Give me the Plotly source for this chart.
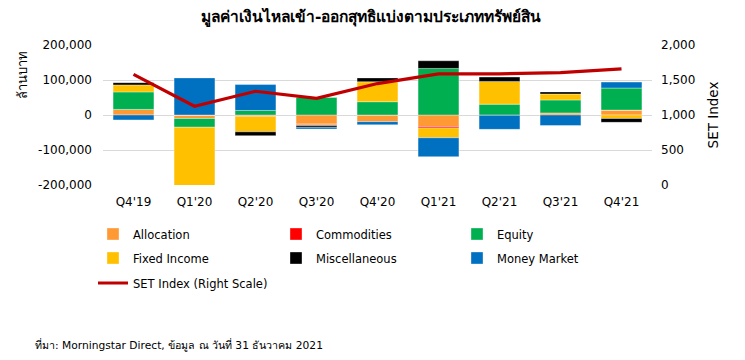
import plotly.graph_objects as go

quarters = ["Q4'19", "Q1'20", "Q2'20", "Q3'20", "Q4'20", "Q1'21", "Q2'21", "Q3'21", "Q4'21"]

allocation = [16000, -10000, -2000, -26000, -19000, -33000, 0, 6000, 14000]
commodities = [0, 0, -2000, -2000, 0, -4000, -1000, 0, 0]
equity = [50000, -25000, 13000, 50000, 38000, 133000, 31000, 37000, 63000]
fixed_income = [20000, -168000, -44000, -2000, 57000, -28000, 65000, 17000, -10000]
miscellaneous = [6500, 0, -11000, -5000, 11000, 22000, 12500, 6000, -11000]
money_market = [-14000, 106000, 74000, -5000, -9000, -54000, -40000, -30000, 17000]
set_index = [1579.84, 1125.86, 1339.03, 1237.04, 1449.35, 1587.21, 1587.79, 1605.68, 1657.62]

left_ticks = [-200000, -100000, 0, 100000, 200000]
right_ticks = [0, 500, 1000, 1500, 2000]

FONT = "DejaVu Sans"

# The page body has an 8px margin, so the figure is drawn offset by 8px.
OFF = 8
W, H = 745 - OFF, 360 - OFF
# plot area in page pixels: x 103..652, y 44.7..184.7
L = 103 - OFF
R = W - (652 - OFF)
T = 45 - OFF
B = H - (185 - OFF)
PW, PH = W - L - R, H - T - B

def px_x(x):
    return (x - OFF - L) / PW

def px_y(y):
    return (H - B - (y - OFF)) / PH

series = [
    ("Allocation", allocation, "#FF9933"),
    ("Commodities", commodities, "#FF0000"),
    ("Equity", equity, "#00B050"),
    ("Fixed Income", fixed_income, "#FFC000"),
    ("Miscellaneous", miscellaneous, "#000000"),
    ("Money Market", money_market, "#0070C0"),
]

# legend slot (text-left-x, row-center-y) in page pixels
slots = [(133, 234), (316, 234), (497, 234),
         (133, 258), (316, 258), (497, 258),
         (133, 283)]

fig = go.Figure()
legend_layout = {}
for i, (name, vals, color) in enumerate(series):
    lg = "legend" if i == 0 else f"legend{i + 1}"
    fig.add_trace(go.Bar(
        x=quarters, y=vals, name=name, legend=lg,
        marker=dict(color=color, line=dict(color="rgba(255,255,255,0.7)", width=0.5)),
    ))

fig.add_trace(go.Scatter(
    x=quarters, y=set_index, name="SET Index (Right Scale)", yaxis="y2",
    mode="lines", line=dict(color="#C00000", width=3.2), legend="legend7",
))

for i, (sx, sy) in enumerate(slots):
    lg = "legend" if i == 0 else f"legend{i + 1}"
    legend_layout[lg] = dict(
        orientation="h", xanchor="left", yanchor="middle",
        x=px_x(sx - 40), y=px_y(sy),
        font=dict(family=FONT, size=11.5, color="#000"),
        bgcolor="rgba(0,0,0,0)", borderwidth=0,
    )

fig.update_layout(
    width=W, height=H,
    margin=dict(l=L, r=R, t=T, b=B, autoexpand=False),
    paper_bgcolor="white", plot_bgcolor="white",
    barmode="relative", bargap=0.33,
    font=dict(family=FONT, size=12, color="#000"),
    showlegend=True,
    xaxis=dict(showgrid=False, showline=False, ticks="", tickfont=dict(size=12),
               ticklabelstandoff=8),
    yaxis=dict(range=[-200000, 200000], tickvals=left_ticks,
               ticktext=[f"{v:,}" for v in left_ticks],
               showgrid=True, gridcolor="#D9D9D9", gridwidth=1,
               zeroline=True, zerolinecolor="#D9D9D9", zerolinewidth=1,
               showline=False, ticks="", tickfont=dict(size=12),
               ticklabelstandoff=10),
    yaxis2=dict(range=[0, 2000], tickvals=right_ticks,
                ticktext=[f"{v:,}" for v in right_ticks],
                overlaying="y", side="right", showgrid=False, zeroline=False,
                showline=False, ticks="", tickfont=dict(size=12),
                ticklabelstandoff=8,
                title=dict(text="SET Index", font=dict(size=13.5), standoff=14)),
    annotations=[
        dict(text="<b>มูลค่าเงินไหลเข้า-ออกสุทธิแบ่งตามประเภททรัพย์สิน</b>", xref="paper", yref="paper",
             x=px_x(371), y=px_y(17), showarrow=False, font=dict(size=15.5),
             xanchor="center", yanchor="middle"),
        dict(text="ล้านบาท", xref="paper", yref="paper", x=px_x(22), y=px_y(75),
             textangle=-90, showarrow=False, font=dict(size=13), xanchor="center", yanchor="middle"),
        dict(text="ที่มา: Morningstar Direct, ข้อมูล ณ วันที่ 31 ธันวาคม 2021", xref="paper", yref="paper",
             x=px_x(33), y=px_y(345), showarrow=False, font=dict(size=10.7),
             xanchor="left", yanchor="middle"),
    ],
    **legend_layout,
)

fig.write_html("out.html")
